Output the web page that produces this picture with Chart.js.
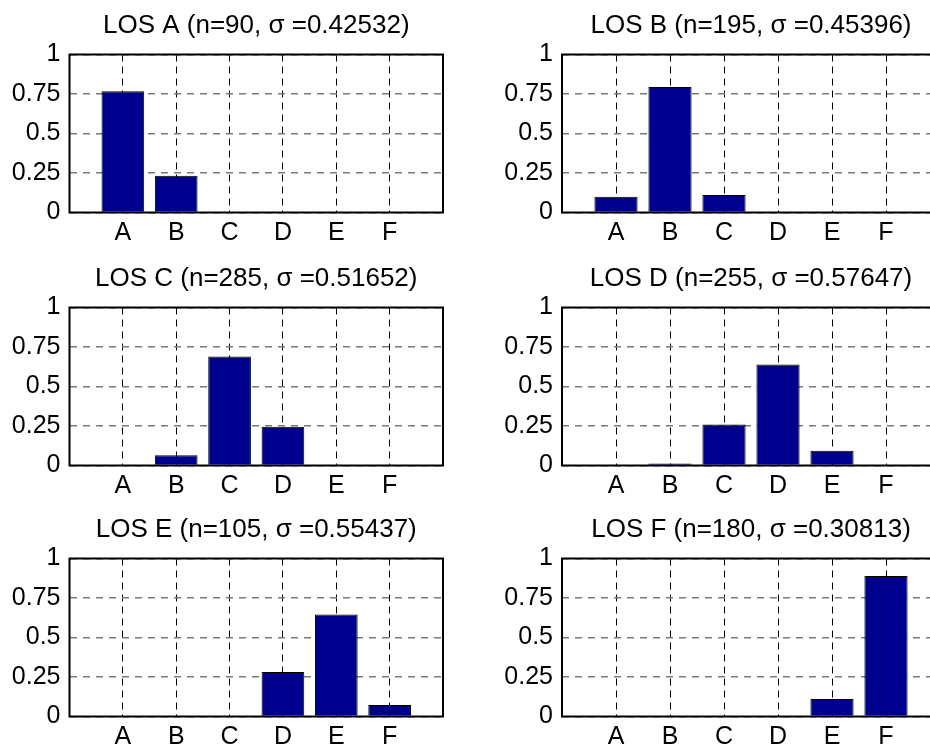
<!DOCTYPE html>
<html>
<head>
<meta charset="utf-8">
<script src="https://cdn.jsdelivr.net/npm/chart.js@4.4.1/dist/chart.umd.min.js"></script>
<style>
    html, body { margin: 0; padding: 0; background: #fff; overflow: hidden; }
    body { width: 930px; height: 748px; position: relative; }
    canvas { position: absolute; }
</style>
</head>
<body>
<canvas id="losA" width="465" height="250" style="left:0px;top:0px"></canvas>
<canvas id="losB" width="500" height="250" style="left:465px;top:0px"></canvas>
<canvas id="losC" width="465" height="250" style="left:0px;top:253px"></canvas>
<canvas id="losD" width="500" height="250" style="left:465px;top:253px"></canvas>
<canvas id="losE" width="465" height="250" style="left:0px;top:504px"></canvas>
<canvas id="losF" width="500" height="250" style="left:465px;top:504px"></canvas>
<script>
// Data
const grades = ['A', 'B', 'C', 'D', 'E', 'F'];
const yTicks = [0, 0.25, 0.5, 0.75, 1];

const titles = [
    'LOS A (n=90, \u03c3 =0.42532)',
    'LOS B (n=195, \u03c3 =0.45396)',
    'LOS C (n=285, \u03c3 =0.51652)',
    'LOS D (n=255, \u03c3 =0.57647)',
    'LOS E (n=105, \u03c3 =0.55437)',
    'LOS F (n=180, \u03c3 =0.30813)'
];

const losA = [0.767, 0.233, 0, 0, 0, 0];
const losB = [0.100, 0.795, 0.110, 0, 0, 0];
const losC = [0, 0.065, 0.690, 0.245, 0, 0];
const losD = [0, 0.013, 0.260, 0.640, 0.094, 0];
const losE = [0, 0, 0, 0.282, 0.646, 0.072];
const losF = [0, 0, 0, 0, 0.110, 0.890];

const panels = [
    { id: 'losA', values: losA, title: titles[0], col: 0 },
    { id: 'losB', values: losB, title: titles[1], col: 1 },
    { id: 'losC', values: losC, title: titles[2], col: 0 },
    { id: 'losD', values: losD, title: titles[3], col: 1 },
    { id: 'losE', values: losE, title: titles[4], col: 0 },
    { id: 'losF', values: losF, title: titles[5], col: 1 }
];

const FONT = { family: '"Liberation Sans", Arial, sans-serif', size: 25, weight: 'normal' };
const TITLE_FONT = { family: '"Liberation Sans", Arial, sans-serif', size: 26, weight: 'normal' };

// axes box (matlab "box on")
const boxPlugin = {
    id: 'box',
    afterDraw(chart) {
        const { ctx, chartArea: a } = chart;
        ctx.save();
        ctx.strokeStyle = '#000';
        ctx.lineWidth = 2;
        ctx.strokeRect(a.left, a.top, a.right - a.left, a.bottom - a.top);
        ctx.restore();
    }
};

function makePanel(p) {
    // one empty slot each side so the x range runs 0..7
    const labels = [''].concat(grades, ['']);
    const data = [null].concat(p.values, [null]);
    const yWidth = p.col === 0 ? 69.5 : 97;
    const rightPad = p.col === 0 ? 22 : 25;

    new Chart(document.getElementById(p.id).getContext('2d'), {
        type: 'bar',
        data: {
            labels: labels,
            datasets: [{
                data: data,
                backgroundColor: '#00008f',
                borderColor: '#000',
                borderWidth: 1,
                borderSkipped: 'bottom',
                barPercentage: 0.8,
                categoryPercentage: 1.0
            }]
        },
        plugins: [boxPlugin],
        options: {
            responsive: false,
            animation: false,
            layout: { padding: { left: 0, right: rightPad, top: 0, bottom: 0 } },
            plugins: {
                legend: { display: false },
                tooltip: { enabled: false },
                title: {
                    display: true,
                    text: p.title,
                    color: '#000',
                    font: TITLE_FONT,
                    fullSize: false,
                    padding: { top: 10, bottom: 13.3 }
                }
            },
            scales: {
                x: {
                    offset: false,
                    grid: { offset: false, color: '#000', lineWidth: 1, drawTicks: false },
                    border: { display: false, dash: [7, 5] },
                    ticks: { color: '#000', font: FONT, padding: 6, autoSkip: false, maxRotation: 0 },
                    afterFit: (scale) => { scale.height = 37.5; }
                },
                y: {
                    min: 0,
                    max: 1,
                    afterBuildTicks: (scale) => { scale.ticks = yTicks.map(v => ({ value: v })); },
                    grid: { color: '#7a7a7a', lineWidth: 1.5, drawTicks: false },
                    border: { display: false, dash: [7, 6] },
                    ticks: { color: '#000', font: FONT, padding: 9, callback: (v) => String(v) },
                    afterFit: (scale) => { scale.width = yWidth; }
                }
            }
        }
    });
}

panels.forEach(makePanel);
</script>
</body>
</html>
